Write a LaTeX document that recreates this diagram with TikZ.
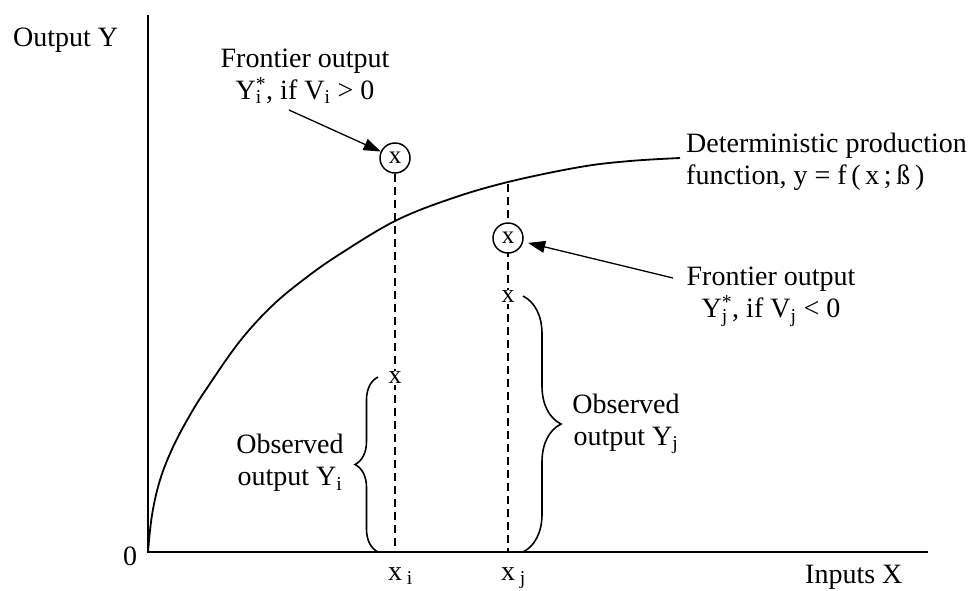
\documentclass[tikz,border=0pt]{standalone}
\usepackage{fontspec}
\setmainfont{Liberation Serif}
\usetikzlibrary{arrows.meta,decorations.pathreplacing,positioning}

\begin{document}
\begin{tikzpicture}[x=1pt, y=-1pt,
	lbl/.style={font=\fontsize{28}{32}\selectfont, inner sep=0pt},
	ring/.style={circle, draw, line width=1.5pt, fill=white, minimum size=30pt, inner sep=0pt, font=\fontsize{25}{25}\selectfont},
	obsx/.style={fill=white, inner sep=1pt, font=\fontsize{26}{26}\selectfont},
	guide/.style={line width=1.5pt, dash pattern=on 8pt off 5pt},
	pointer/.style={line width=1.3pt, -{Triangle[length=17pt,width=12pt]}},
	bracket/.style={line width=1.6pt, decorate, decoration={brace, amplitude=#1}}]
	\useasboundingbox (0,0) rectangle (974,590);
	% axes
	\coordinate (org) at (148,552);
	\coordinate (ytop) at (148,15);
	\coordinate (xend) at (928,552);
	\coordinate (xi) at (395,552);
	\coordinate (xj) at (508,552);
	\coordinate (fj) at (508,184);
	\draw[line width=2pt] (ytop) -- (org) -- (xend);
	% production function
	\draw[line width=1.8pt] plot[smooth, tension=0.6] coordinates {(148,552) (152,515) (160,480) (173,447) (190,415) (207,388) (240,341) (273,305) (307,277) (340,254) (395,221) (450,199) (508,182) (580,167) (630,161) (680,158)};
	% firm i and firm j
	\node[ring] (ci) at (395,158) {x};
	\draw[guide] (ci) -- (xi);
	\draw[guide] (fj) -- (xj);
	\node[ring] (cj) at (508,238) {x};
	\node[obsx] (oi) at (395,378) {x};
	\node[obsx] (oj) at (508,297) {x};
	\draw[bracket=23pt] (378,552) -- (378,377);
	\draw[bracket=38pt] (523,296) -- (523,552);
	% labels
	\node[lbl, anchor=west] (ylab) at (13,40) {Output Y};
	\node[lbl] (zero) at (130,556) {0};
	\node[lbl, anchor=west] (xlab) at (805,577) {Inputs X};
	\node[lbl, anchor=base west] (lxi) at (388,580) {x\,\textsubscript{i}};
	\node[lbl, anchor=base west] (lxj) at (501,580) {x\,\textsubscript{j}};
	\node[lbl, align=center] (fri) at (305,76) {Frontier output\\Y\rlap{\textsubscript{i}}\textsuperscript{*}, if V\textsubscript{i} > 0};
	\node[lbl, align=center] (frj) at (771,297) {Frontier output\\Y\rlap{\textsubscript{j}}\textsuperscript{*}, if V\textsubscript{j} < 0};
	\node[lbl, align=center] (obi) at (290,463) {Observed\\output Y\textsubscript{i}};
	\node[lbl, align=center] (obj) at (626,424) {Observed\\output Y\textsubscript{j}};
	\node[lbl, align=left, anchor=west] (det) at (686,162) {Deterministic production\\function, y = f\,(\,x\,;\,ß\,)};
	% arrows
	\coordinate (ti) at (289,110);
	\coordinate (tj) at (673,278);
	\draw[pointer] (ti) -- (ci);
	\draw[pointer, shorten >=5pt] (tj) -- (cj);
\end{tikzpicture}
\end{document}
